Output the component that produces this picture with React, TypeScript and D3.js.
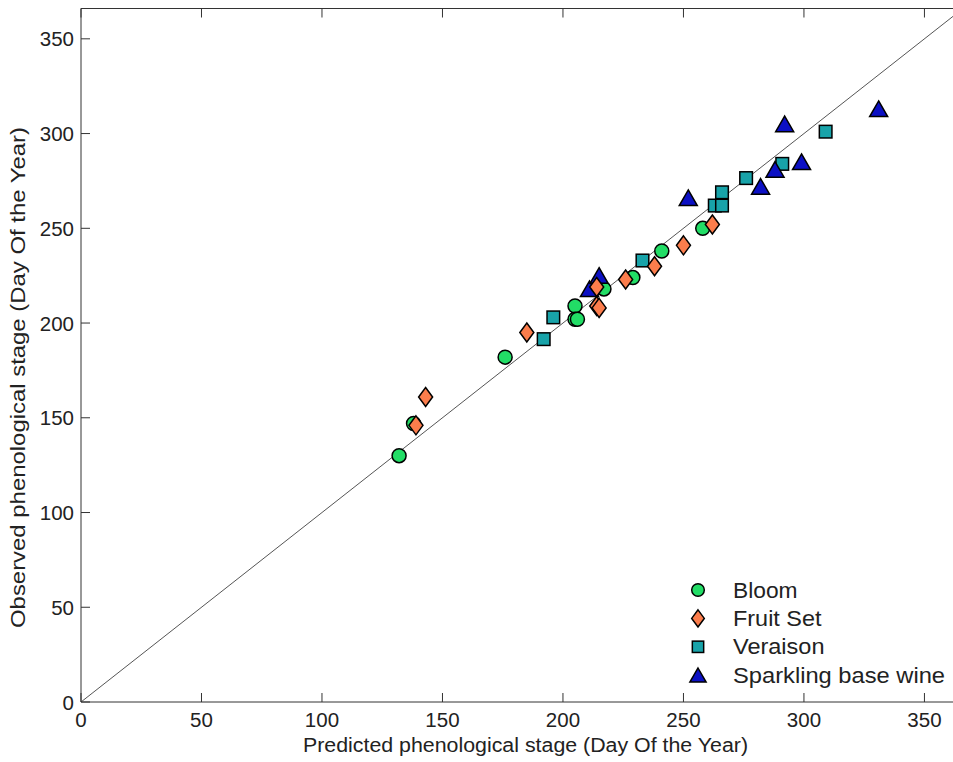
import React from 'react';
import * as d3 from 'd3';

const bloom = [
  [132, 130], [138, 147], [176, 182], [205, 209], [205, 202], [206, 202],
  [217, 218], [229, 224], [241, 238], [258, 250],
];
const fruitSet = [
  [139, 146], [143, 161], [185, 195], [214, 209], [215, 208], [214, 219],
  [226, 223], [238, 230], [250, 241], [262, 252],
];
const veraison = [
  [192, 191.5], [196, 203], [233, 233], [263, 262], [266, 262], [266, 269],
  [276, 276.5], [291, 284], [309, 301],
];
const sparkling = [
  [211, 218], [215, 225], [252, 266], [282, 272], [288, 281], [292, 305],
  [299, 285], [331, 313],
];

const seriesNames = ['Bloom', 'Fruit Set', 'Veraison', 'Sparkling base wine'];
const seriesColors = ['#22dd66', '#fb7d4c', '#18a3a9', '#0c10c4'];
const xTicks = [0, 50, 100, 150, 200, 250, 300, 350];
const yTicks = [0, 50, 100, 150, 200, 250, 300, 350];

const W = 953, H = 762;
const left = 81, right = 963, top = 8.5, bottom = 702;
const font = '"Liberation Sans", Arial, sans-serif';

function Marker({ kind, x, y, color, s = 1 }) {
  const common = { fill: color, stroke: '#000', strokeWidth: 1.5 };
  if (kind === 0) return <circle cx={x} cy={y} r={7 * s} {...common} />;
  if (kind === 1) {
    const w = 7 * s, h = 9.5 * s;
    return <path d={`M${x},${y - h}L${x + w},${y}L${x},${y + h}L${x - w},${y}Z`} {...common} />;
  }
  if (kind === 2) {
    const a = 6.3 * s;
    return <rect x={x - a} y={y - a} width={2 * a} height={2 * a} {...common} />;
  }
  const w = 9 * s, h = 8 * s;
  return <path d={`M${x},${y - h}L${x + w},${y + h * 0.95}L${x - w},${y + h * 0.95}Z`} {...common} />;
}

export default function App() {
  const x = d3.scaleLinear().domain([0, 366]).range([left, right]);
  const y = d3.scaleLinear().domain([0, 366]).range([bottom, top]);
  const allSeries = [bloom, fruitSet, veraison, sparkling];
  // draw order as it appears in the figure
  const drawOrder = [0, 2, 3, 1];
  const axisColor = '#333';

  return (
    <svg width={W} height={H} style={{ position: 'absolute', left: 0, top: 0, background: '#fff' }}
      fontFamily={font}>
      <defs>
        <clipPath id="plot">
          <rect x={left} y={top} width={right - left} height={bottom - top} />
        </clipPath>
      </defs>
      <rect width={W} height={H} fill="#fff" />

      <line x1={x(0)} y1={y(0)} x2={x(366)} y2={y(366)} stroke="#555" strokeWidth={1}
        clipPath="url(#plot)" />

      {drawOrder.map(si => (
        <g key={si}>
          {allSeries[si].map((d, i) => (
            <Marker key={i} kind={si} x={x(d[0])} y={y(d[1])} color={seriesColors[si]} />
          ))}
        </g>
      ))}

      {/* axes box */}
      <g stroke={axisColor} strokeWidth={1} fill="none">
        <line x1={left} y1={top} x2={left} y2={bottom} />
        <line x1={left} y1={bottom} x2={W} y2={bottom} />
        <line x1={left} y1={top} x2={W} y2={top} />
        {xTicks.map(t => (
          <g key={t}>
            <line x1={x(t)} x2={x(t)} y1={bottom} y2={bottom - 9} />
            <line x1={x(t)} x2={x(t)} y1={top} y2={top + 9} />
          </g>
        ))}
        {yTicks.map(t => (
          <line key={t} x1={left} x2={left + 9} y1={y(t)} y2={y(t)} />
        ))}
      </g>

      <g fontSize={20.5} fill="#222">
        {xTicks.map(t => (
          <text key={t} x={x(t)} y={727} textAnchor="middle">{t}</text>
        ))}
        {yTicks.map(t => (
          <text key={t} x={74} y={y(t) + 7.5} textAnchor="end">{t}</text>
        ))}
      </g>

      <text x={525.5} y={752} fontSize={20} textAnchor="middle" fill="#222"
        textLength={445} lengthAdjust="spacingAndGlyphs">
        Predicted phenological stage (Day Of the Year)
      </text>
      <text transform={`translate(25,377.5) rotate(-90)`} fontSize={21} textAnchor="middle" fill="#222"
        textLength={501} lengthAdjust="spacingAndGlyphs">
        Observed phenological stage (Day Of the Year)
      </text>

      {/* legend */}
      <g>
        {seriesNames.map((name, i) => {
          const cy = 590 + i * 28.4;
          return (
            <g key={name}>
              <Marker kind={i} x={698} y={cy} color={seriesColors[i]} s={0.9} />
              <text x={733} y={cy + 7.5} fontSize={21.5} fill="#222"
                textLength={[64.5, 88.5, 91.5, 212][i]} lengthAdjust="spacingAndGlyphs">{name}</text>
            </g>
          );
        })}
      </g>
    </svg>
  );
}
